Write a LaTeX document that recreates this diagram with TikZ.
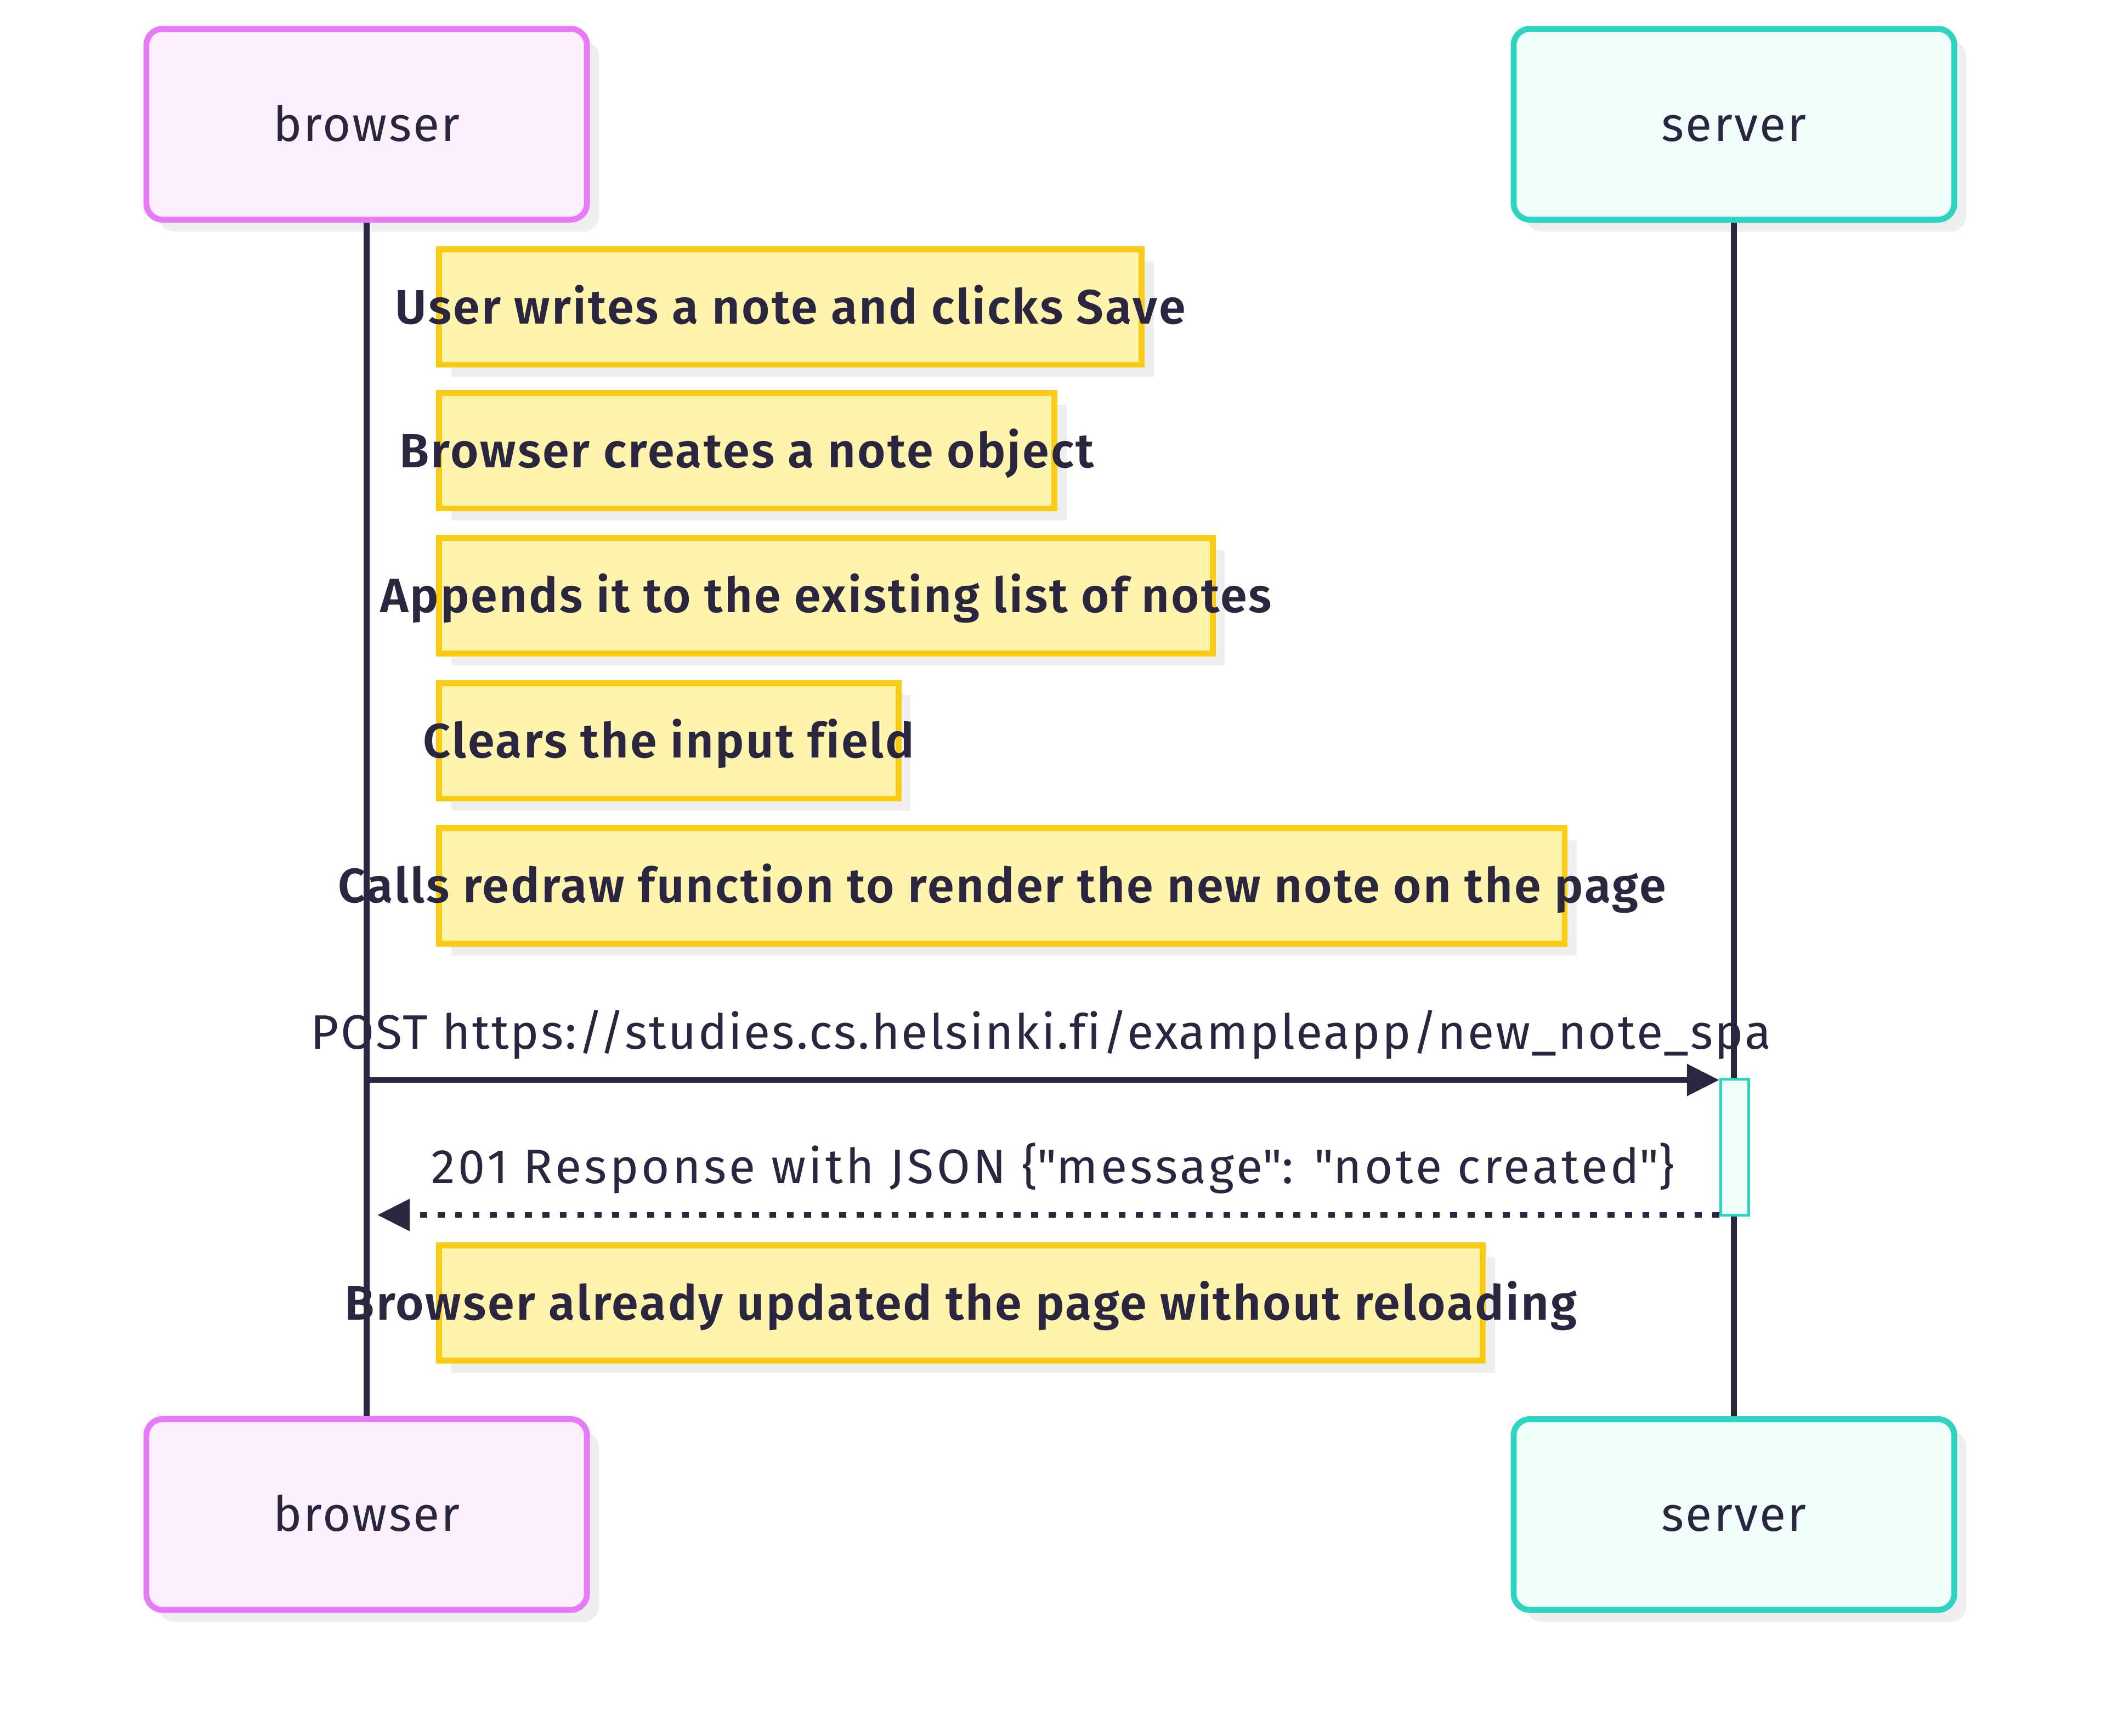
\documentclass[tikz,border=0pt]{standalone}
\usepackage{fontspec}
\setmainfont{Fira Sans}[LetterSpace=3.5, Ligatures=CommonOff, BoldFont={Fira Sans SemiBold}]
\usetikzlibrary{arrows.meta,positioning,shadows}
\definecolor{ink}{HTML}{2A2640}
\definecolor{pinkline}{HTML}{E879F9}
\definecolor{pinkfill}{HTML}{FDF0FD}
\definecolor{tealline}{HTML}{2DD4BF}
\definecolor{tealfill}{HTML}{F0FDFA}
\definecolor{noteline}{HTML}{FACC15}
\definecolor{notefill}{HTML}{FEF4AE}
\definecolor{shade}{HTML}{EFEFEF}
\newdimen\px \px=0.25mm

\tikzset{
  boxshadow/.style={drop shadow={shadow xshift=2.25mm, shadow yshift=-2.25mm, fill=shade, opacity=1}},
  actorbox/.style={rectangle, rounded corners=3mm, line width=1.1mm, boxshadow,
    minimum width=328\px, minimum height=142\px, inner sep=0pt, text=ink,
    text height=17.7pt, text depth=0pt},
  notebox/.style={rectangle, draw=noteline, fill=notefill, line width=1.1mm, boxshadow,
    minimum height=86\px, inner sep=0pt, text=ink, font=\msgfont\bfseries,
    text height=17.7pt, text depth=0pt},
  lifeline/.style={draw=ink, line width=1.1mm},
  msgline/.style={draw=ink, line width=1mm, -{Triangle[length=6mm, width=5.75mm]}},
  replyline/.style={msgline, dash pattern=on 1.3mm off 1.95mm},
  actbar/.style={rectangle, draw=tealline, fill=tealfill, line width=0.5mm,
    minimum width=21\px, minimum height=101\px, inner sep=0pt}
}
\newcommand\msgfont{\fontsize{25.6pt}{30pt}\selectfont}

\begin{document}
\begin{tikzpicture}[x=0.25mm, y=-0.25mm, line join=miter, font=\msgfont]
\fill[white] (0,0) rectangle (1568,1292);
\useasboundingbox (0,0) rectangle (1568,1292);

\node[actorbox, draw=pinkline, fill=pinkfill] (browserTop) at (273,92.5) {browser};
\node[actorbox, draw=tealline, fill=tealfill] (serverTop) at (1291,92.5) {server};
\node[actorbox, draw=pinkline, fill=pinkfill] (browserBot) at (273,1127.5) {browser};
\node[actorbox, draw=tealline, fill=tealfill] (serverBot) at (1291,1127.5) {server};

\draw[lifeline] (browserTop.south) -- (browserBot.north);
\draw[lifeline] (serverTop.south) -- (serverBot.north);

\node[notebox, minimum width=523\px] (save) at (588.5,228.5) {\makebox[0pt]{User writes a note and clicks Save}};
\node[notebox, minimum width=458\px] (create) at (556,335.5) {\makebox[0pt]{Browser creates a note object}};
\node[notebox, minimum width=576\px] (append) at (615,443.5) {\makebox[0pt]{Appends it to the existing list of notes}};
\node[notebox, minimum width=342\px] (clear) at (498,551.5) {\makebox[0pt]{Clears the input field}};
\node[notebox, minimum width=838\px] (redraw) at (746,659.5) {\makebox[0pt]{Calls redraw function to render the new note on the page}};

\node[actbar] (act) at (1291.5,854) {};
\coordinate (postStart) at (273,804);
\coordinate (replyEnd) at (281,904.5);

\draw[msgline] (postStart) -- (postStart -| act.west);
\node[text=ink, anchor=base] (postLabel) at (775,781) {POST https://studies.cs.helsinki.fi/exampleapp/new\_note\_spa};
\draw[replyline] (act.west |- replyEnd) -- (replyEnd);
\node[text=ink, anchor=base] (replyLabel) at (784,881) {\addfontfeatures{LetterSpace=6}201 Response with JSON \{\textquotedbl message\textquotedbl: \textquotedbl note created\textquotedbl\}};

\node[notebox, minimum width=777\px] (done) at (715.5,970) {\makebox[0pt]{Browser already updated the page without reloading}};
\end{tikzpicture}
\end{document}
